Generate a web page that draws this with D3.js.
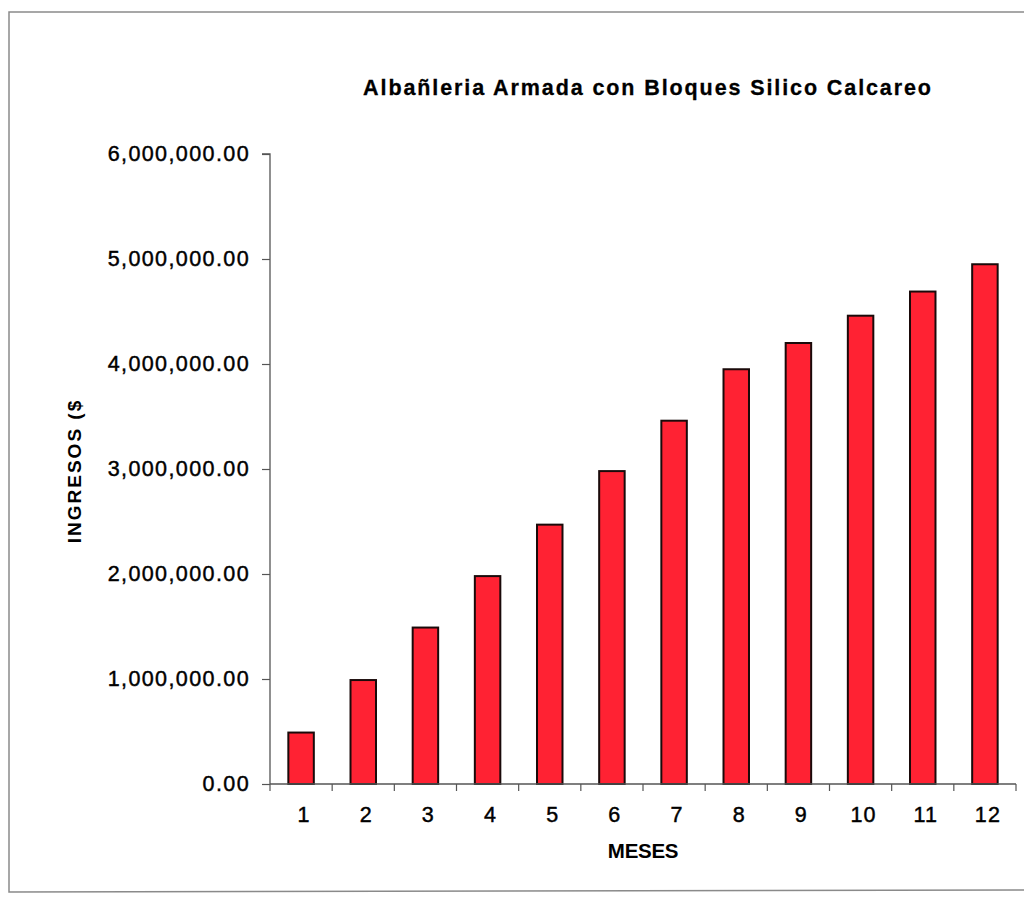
<!DOCTYPE html>
<html><head><meta charset="utf-8">
<script src="https://cdn.jsdelivr.net/npm/d3@7"></script>
<style>
html,body{margin:0;padding:0;background:#fff;}
svg{display:block;font-family:"Liberation Sans",Arial,sans-serif;}
</style></head>
<body>
<svg id="chart" width="1024" height="898"></svg>
<script>
const title = "Albañleria Armada con Bloques Silico Calcareo";
const xTitle = "MESES";
const yTitle = "INGRESOS ($";
const months = ["1","2","3","4","5","6","7","8","9","10","11","12"];
const ingresos = [490000, 990000, 1490000, 1980000, 2470000, 2980000, 3460000, 3950000, 4200000, 4460000, 4690000, 4950000];
const yTicks = [0, 1000000, 2000000, 3000000, 4000000, 5000000, 6000000];

const svg = d3.select("#chart");
const m = {left: 270, right: 1016, top: 154, bottom: 784};

// frame
svg.append("path")
  .attr("d", `M1024,12 L9,12 L9,892 L1024,890`)
  .attr("fill", "none").attr("stroke", "#8a8a8a").attr("stroke-width", 1.5);

const x = d3.scaleBand().domain(months).range([m.left, m.right])
  .paddingInner(0.59).paddingOuter(0.295);
const y = d3.scaleLinear().domain([0, 6000000]).range([m.bottom, m.top]);

// title
svg.append("text").attr("x", 648).attr("y", 95)
  .attr("text-anchor", "middle").attr("font-weight", "bold")
  .attr("font-size", 21.5).attr("letter-spacing", 1.9).attr("fill", "#000")
  .attr("stroke", "#000").attr("stroke-width", 0.3)
  .text(title);

// y axis
const fmt = d3.format(",.2f");
const yAxis = d3.axisLeft(y).tickValues(yTicks).tickFormat(fmt).tickSize(8).tickPadding(12);
const gy = svg.append("g").attr("transform", `translate(${m.left},0)`).call(yAxis);
gy.select(".domain").attr("stroke", "#555").attr("stroke-width", 1.3).attr("d", `M-8,${m.top}H0V${m.bottom}`);
gy.selectAll(".tick line").attr("stroke", "#555").attr("stroke-width", 1.2);
gy.selectAll(".tick text").attr("font-size", 21.5).attr("letter-spacing", 1.4)
  .attr("fill", "#000").attr("stroke", "#000").attr("stroke-width", 0.45)
  .attr("font-family", "Liberation Sans, Arial, sans-serif");

// bars
svg.append("g").selectAll("rect").data(ingresos).join("rect")
  .attr("x", (d, i) => x(months[i]))
  .attr("width", x.bandwidth())
  .attr("y", d => y(d))
  .attr("height", d => y(0) - y(d))
  .attr("fill", "#ff2233").attr("stroke", "#1a0a0a").attr("stroke-width", 2);

// x axis line and ticks between categories
const step = x.step();
const xBounds = d3.range(months.length + 1).map(i => m.left + i * step);
const gx = svg.append("g");
gx.append("line").attr("x1", m.left).attr("x2", m.right).attr("y1", y(0)).attr("y2", y(0))
  .attr("stroke", "#555").attr("stroke-width", 1.3);
gx.selectAll("line.t").data(xBounds).join("line").attr("class", "t")
  .attr("x1", d => d).attr("x2", d => d).attr("y1", y(0)).attr("y2", y(0) + 7)
  .attr("stroke", "#555").attr("stroke-width", 1.2);
gx.selectAll("text").data(months).join("text")
  .attr("x", d => x(d) + x.bandwidth() / 2 + 3)
  .attr("y", y(0) + 38)
  .attr("text-anchor", "middle").attr("font-size", 21.5).attr("letter-spacing", 1.2)
  .attr("fill", "#000").attr("stroke", "#000").attr("stroke-width", 0.45).text(d => d);

// axis titles
svg.append("text").attr("x", (m.left + m.right) / 2).attr("y", 858)
  .attr("text-anchor", "middle").attr("font-weight", "bold").attr("font-size", 20.5)
  .attr("letter-spacing", -0.3).attr("word-spacing", 0).attr("fill", "#000").text(xTitle);

svg.append("text").attr("transform", `translate(81,471) rotate(-90)`)
  .attr("text-anchor", "middle").attr("font-weight", "bold").attr("font-size", 19)
  .attr("letter-spacing", 2).attr("fill", "#000").text(yTitle);
</script>
</body></html>
